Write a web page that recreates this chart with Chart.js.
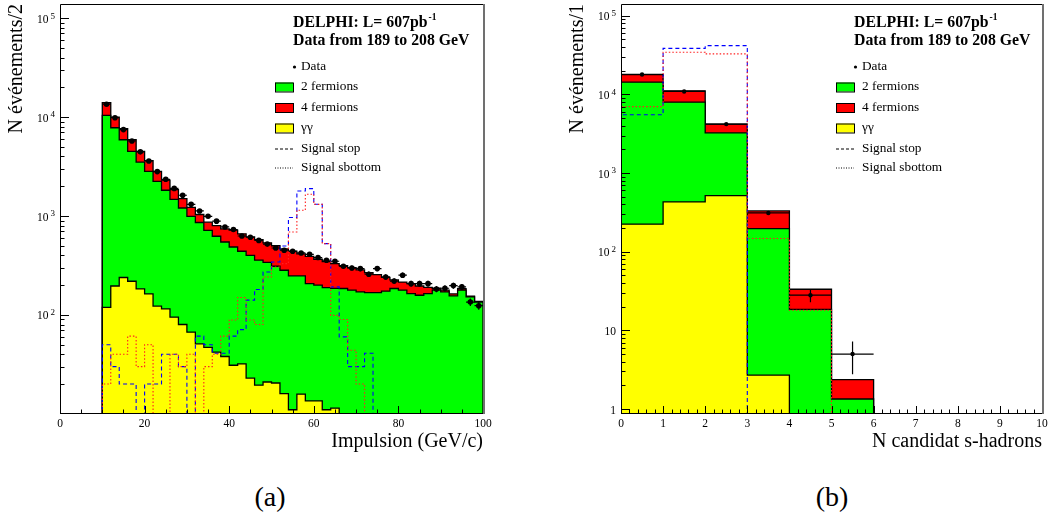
<!DOCTYPE html>
<html>
<head>
<meta charset="utf-8">
<script src="https://cdn.jsdelivr.net/npm/chart.js@4.4.1/dist/chart.umd.min.js"></script>
<style>
  html, body { margin: 0; padding: 0; background: #fff; width: 1050px; height: 519px; overflow: hidden; }
  canvas { position: absolute; top: 0; }
  #ca { left: 0; }
  #cb { left: 561px; }
  .tag { position: absolute; top: 481px; font: 28px "Liberation Serif", serif; line-height: 32px; transform: translateX(-50%); }
</style>
</head>
<body>
<canvas id="ca" width="525" height="460"></canvas>
<canvas id="cb" width="489" height="460"></canvas>
<div class="tag" style="left:270px">(a)</div>
<div class="tag" style="left:832px">(b)</div>
<script>
// (a) momentum, 2 GeV bins starting at 10 GeV/c
const pLow = 10, pWidth = 2;
const pData = [13500, 9860, 7470, 5730, 4450, 3600, 2810, 2350, 1900, 1620, 1313, 1125, 993, 887, 775,
  730, 628, 610, 567, 520, 475, 451, 440, 423, 410, 380, 357, 349, 310, 298,
  294, 258, 294, 242, 220, 252, 207, 207, 207, 183, 186, 198, 192, 135, 124];
const pGammaGamma = [119, 196, 239, 219, 183, 163, 123, 115, 95, 80, 67, 51, 47, 42, 38,
  31, 32, 23, 19.5, 21, 20.5, 16, 11, 15.8, 13.5, 13.5, 11, 11.4, 0, 0,
  0, 0, 0, 0, 0, 0, 0, 0, 0, 0, 0, 0, 0, 0, 0];
const pTwoFermions = [10281, 7604, 5661, 4281, 3327, 2667, 2117, 1705, 1375, 1125, 926, 809, 670, 582, 508,
  455, 408, 377, 338, 319, 290, 267, 237, 232, 194, 187, 178, 174, 185, 178,
  171, 168, 168, 174, 185, 178, 164, 158, 164, 178, 171, 156, 178, 152, 135];
const pFourFermions = [3600, 2200, 1740, 1400, 990, 800, 590, 490, 380, 295, 232, 175, 150, 176, 194,
  234, 220, 215, 218, 195, 190, 182, 192, 167, 183, 165, 156, 145, 130, 122,
  114, 100, 87, 66, 41, 37, 43, 38, 26, 8, 7, 7, 6, 3, 2];
const pStop = [50, 30, 20, 20, 0, 20, 20, 40, 40, 30, 0, 61, 50, 41, 41,
  61, 71, 141, 181, 272, 343, 497, 964, 1790, 1890, 1313, 526, 192, 60, 30,
  30, 41, 0, 0, 0, 0, 0, 0, 0, 0, 0, 0, 0, 0, 0];
const pSbottom = [20, 40, 40, 61, 30, 50, 0, 0, 40, 30, 40, 0, 30, 40, 61,
  89, 150, 89, 80, 242, 305, 330, 690, 1143, 1660, 1310, 526, 99, 90, 44,
  20, 0, 0, 0, 0, 0, 0, 0, 0, 0, 0, 0, 0, 0, 0];
const pXTicks = [0, 20, 40, 60, 80, 100];
const pYTicks = [100, 1000, 10000, 100000];

// (b) number of s-hadron candidates, unit bins from 0
const nLow = 0, nWidth = 1;
const nData = [17900, 10900, 4190, 311, 28, 5];
const nGammaGamma = [224, 430, 517, 2.7, 0, 0, 0, 0, 0, 0];
const nTwoFermions = [14076, 7530, 2733, 194, 18.5, 1.34, 0, 0, 0, 0];
const nFourFermions = [3600, 3140, 940, 133, 14.8, 1.02, 0, 0, 0, 0];
const nStop = [5500, 38500, 41700, 0, 0, 0, 0, 0, 0, 0];
const nSbottom = [7000, 34300, 32700, 147, 18, 0, 0, 0, 0, 0];
const nXTicks = [0, 1, 2, 3, 4, 5, 6, 7, 8, 9, 10];
const nYTicks = [1, 10, 100, 1000, 10000, 100000];

const legendHeader = ['DELPHI: L= 607pb', 'Data from 189 to 208 GeV'];

const SERIF = '"Liberation Serif", serif';
const FLOOR = 1e-3; // below any axis minimum, keeps log scale happy for empty bins

// outline of a histogram as points for a stepped line
function histPoints(lo, width, vals) {
  const pts = [{ x: lo, y: FLOOR }];
  vals.forEach((v, i) => pts.push({ x: lo + i * width, y: Math.max(v, FLOOR) }));
  const hi = lo + vals.length * width;
  pts.push({ x: hi, y: Math.max(vals[vals.length - 1], FLOOR) });
  pts.push({ x: hi, y: FLOOR });
  return pts;
}

function stackSum(...series) {
  return series[0].map((_, i) => series.reduce((s, a) => s + a[i], 0));
}

function histDatasets(lo, width, yy, f2, f4, stop, sbottom, data, dot) {
  const fillSet = (label, vals, color, order) => ({
    label, order, data: histPoints(lo, width, vals),
    stepped: true, fill: 'start', backgroundColor: color,
    borderColor: '#000', borderWidth: 1.3, pointRadius: 0
  });
  const lineSet = (label, vals, color, dash, order) => ({
    label, order, data: histPoints(lo, width, vals),
    stepped: true, fill: false, borderColor: color, borderWidth: 1.1,
    borderDash: dash, pointRadius: 0
  });
  return [
    {
      label: 'Data', order: 0,
      data: data.map((v, i) => ({ x: lo + (i + 0.5) * width, y: v })),
      showLine: false, pointRadius: dot, pointBackgroundColor: '#000', pointBorderWidth: 0
    },
    lineSet('Signal sbottom', sbottom, '#ff2020', [1.5, 2], 1),
    lineSet('Signal stop', stop, '#0000ff', [4, 3], 2),
    fillSet('\u03b3\u03b3', yy, '#ffff00', 3),
    fillSet('2 fermions', stackSum(yy, f2), '#00ff00', 4),
    fillSet('4 fermions', stackSum(yy, f2, f4), '#ff0000', 5)
  ];
}

// ROOT style frame: ticks pointing into the plot, 10^n labels with raised exponent
const rootFrame = {
  id: 'rootFrame',
  afterDatasetsDraw(chart, args, opts) {
    const { ctx, chartArea: a, scales: { x, y } } = chart;
    ctx.save();
    ctx.strokeStyle = '#000';
    ctx.lineWidth = 1;
    ctx.beginPath();
    for (let v = x.min; v <= x.max + 1e-9; v += opts.xMinor) {
      const px = Math.round(x.getPixelForValue(v)) + 0.5;
      const r = v / opts.xMajor;
      const len = Math.abs(r - Math.round(r)) < 1e-6 ? 7 : 3.5;
      ctx.moveTo(px, a.bottom);
      ctx.lineTo(px, a.bottom - len);
    }
    const e0 = Math.floor(Math.log10(y.min)), e1 = Math.ceil(Math.log10(y.max));
    for (let e = e0; e <= e1; e++) {
      for (let k = 1; k <= 9; k++) {
        const v = k * Math.pow(10, e);
        if (v < y.min || v > y.max) continue;
        const py = Math.round(y.getPixelForValue(v)) + 0.5;
        ctx.moveTo(a.left, py);
        ctx.lineTo(a.left + (k === 1 ? 9 : 4.5), py);
      }
    }
    ctx.moveTo(a.left + 0.5, a.bottom + 0.5);
    ctx.lineTo(a.left + 0.5, a.top + 0.5);
    ctx.lineTo(a.right, a.top + 0.5);
    ctx.moveTo(a.left, a.bottom + 0.5);
    ctx.lineTo(a.right, a.bottom + 0.5);
    ctx.stroke();
    ctx.strokeStyle = '#707070';
    ctx.lineWidth = 2;
    ctx.beginPath();
    ctx.moveTo(a.right + 1, a.top);
    ctx.lineTo(a.right + 1, a.bottom + 1);
    ctx.stroke();

    ctx.fillStyle = '#000';
    ctx.textAlign = 'right';
    ctx.textBaseline = 'middle';
    opts.yTicks.forEach(v => {
      const py = y.getPixelForValue(v) + 1.5;
      const e = Math.round(Math.log10(v));
      let rx = a.left - 5;
      if (e >= 2) {
        ctx.font = '9px ' + SERIF;
        ctx.fillText(String(e), rx, py - 3.5);
        rx -= ctx.measureText(String(e)).width + 2;
      }
      ctx.font = '11.5px ' + SERIF;
      ctx.fillText(e === 0 ? '1' : '10', rx, py);
    });
    ctx.restore();
  }
};

// data: sqrt(N) vertical errors and bin-width horizontal bars
const errorBars = {
  id: 'errorBars',
  afterDatasetsDraw(chart, args, opts) {
    const { ctx, chartArea: a, scales: { x, y } } = chart;
    const ds = chart.data.datasets.find(d => d.label === 'Data');
    ctx.save();
    ctx.beginPath();
    ctx.rect(a.left, a.top, a.right - a.left, a.bottom - a.top);
    ctx.clip();
    ctx.strokeStyle = '#000';
    ctx.lineWidth = 1.2;
    ctx.beginPath();
    ds.data.forEach(p => {
      const px = x.getPixelForValue(p.x), py = y.getPixelForValue(p.y);
      const err = Math.sqrt(p.y);
      ctx.moveTo(x.getPixelForValue(p.x - opts.half), py);
      ctx.lineTo(x.getPixelForValue(p.x + opts.half), py);
      ctx.moveTo(px, y.getPixelForValue(p.y + err));
      ctx.lineTo(px, y.getPixelForValue(Math.max(p.y - err, y.min)));
    });
    ctx.stroke();
    ctx.restore();
  }
};

const delphiLegend = {
  id: 'delphiLegend',
  afterDraw(chart) {
    const { ctx, chartArea: a } = chart;
    const hx = a.left + 233, tx = a.left + 241, sx = a.left + 215, sw = 18;
    ctx.save();
    ctx.fillStyle = '#000';
    ctx.textBaseline = 'middle';
    ctx.font = 'bold 15.8px ' + SERIF;
    ctx.fillText(legendHeader[0], hx, a.top + 19);
    const w = ctx.measureText(legendHeader[0]).width;
    ctx.fillText(legendHeader[1], hx, a.top + 36.5);
    ctx.font = 'bold 9.5px ' + SERIF;
    ctx.fillText('-1', hx + w + 1, a.top + 13.5);

    ctx.font = '13.3px ' + SERIF;
    const byLabel = l => chart.data.datasets.find(d => d.label === l);
    ctx.beginPath();
    ctx.arc(a.left + 234.5, a.top + 63, 1.6, 0, Math.PI * 2);
    ctx.fill();
    ctx.fillText('Data', tx, a.top + 63);
    [['2 fermions', 83], ['4 fermions', 103.5], ['\u03b3\u03b3', 124]].forEach(([l, dy]) => {
      ctx.fillStyle = byLabel(l).backgroundColor;
      ctx.fillRect(sx, a.top + dy - 4.5, sw, 9);
      ctx.strokeStyle = '#000';
      ctx.lineWidth = 1;
      ctx.strokeRect(sx + 0.5, a.top + dy - 4, sw, 9);
      ctx.fillStyle = '#000';
      ctx.fillText(l, tx, a.top + dy);
    });
    [['Signal stop', 144.5, [3, 2]], ['Signal sbottom', 163.5, [1, 1.5]]].forEach(([l, dy, dash]) => {
      ctx.strokeStyle = '#000';
      ctx.lineWidth = 1;
      ctx.setLineDash(dash);
      ctx.beginPath();
      ctx.moveTo(sx, a.top + dy + 0.5);
      ctx.lineTo(sx + sw, a.top + dy + 0.5);
      ctx.stroke();
      ctx.setLineDash([]);
      ctx.fillText(l, tx, a.top + dy);
    });
    ctx.restore();
  }
};

function makeChart(id, c) {
  return new Chart(document.getElementById(id), {
    type: 'line',
    data: { datasets: c.datasets },
    options: {
      responsive: false,
      animation: false,
      events: [],
      layout: { padding: { top: 3, right: c.right, bottom: 0, left: 0 } },
      plugins: {
        legend: { display: false },
        tooltip: { enabled: false },
        rootFrame: { xMinor: c.xMinor, xMajor: c.xMajor, yTicks: c.yTicks },
        errorBars: { half: c.width / 2 }
      },
      scales: {
        x: {
          type: 'linear', min: c.xTicks[0], max: c.xTicks[c.xTicks.length - 1],
          afterFit: s => { s.height = 47; s.paddingLeft = 0; s.paddingRight = 0; },
          afterBuildTicks: s => { s.ticks = c.xTicks.map(v => ({ value: v })); },
          grid: { display: false, drawTicks: false },
          border: { display: false },
          ticks: { autoSkip: false, maxRotation: 0, minRotation: 0, padding: 4, color: '#000',
                   font: { family: SERIF, size: 11.5 } },
          title: { display: true, text: c.xTitle, align: 'end', color: '#000',
                   font: { family: SERIF, size: 20 }, padding: { top: 0, bottom: 6 } }
        },
        y: {
          type: 'logarithmic', min: c.yMin, max: c.yMax,
          afterFit: s => { s.width = 60; s.paddingTop = 0; s.paddingBottom = 0; },
          afterBuildTicks: s => { s.ticks = c.yTicks.map(v => ({ value: v })); },
          grid: { display: false, drawTicks: false },
          border: { display: false },
          ticks: { display: false },
          title: { display: true, text: c.yTitle, align: 'end', color: '#000',
                   font: { family: SERIF, size: 20 }, padding: { top: 5, bottom: 0 } }
        }
      }
    },
    plugins: [rootFrame, errorBars, delphiLegend]
  });
}

makeChart('ca', {
  datasets: histDatasets(pLow, pWidth, pGammaGamma, pTwoFermions, pFourFermions, pStop, pSbottom, pData, 2.8),
  width: pWidth, right: 42, xTicks: pXTicks, yTicks: pYTicks, xMinor: 5, xMajor: 20,
  yMin: 10.2, yMax: 1.39e5, xTitle: 'Impulsion (GeV/c)', yTitle: 'N \u00e9v\u00e9nements/2'
});

makeChart('cb', {
  datasets: histDatasets(nLow, nWidth, nGammaGamma, nTwoFermions, nFourFermions, nStop, nSbottom, nData, 2.2),
  width: nWidth, right: 8, xTicks: nXTicks, yTicks: nYTicks, xMinor: 0.2, xMajor: 1,
  yMin: 0.89, yMax: 1.41e5, xTitle: 'N candidat s-hadrons', yTitle: 'N \u00e9v\u00e9nements/1'
});
</script>
</body>
</html>
